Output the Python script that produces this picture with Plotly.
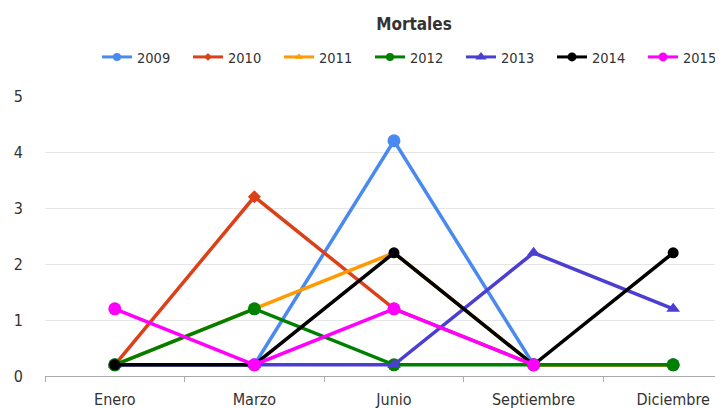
import plotly.graph_objects as go

months = ["Enero", "Marzo", "Junio", "Septiembre", "Diciembre"]
years = ["2009", "2010", "2011", "2012", "2013", "2014", "2015"]
v2009 = [0.2, 0.2, 4.2, 0.2, 0.2]
v2010 = [0.2, 3.2, 1.2, 0.2, 0.2]
v2011 = [0.2, 1.2, 2.2, 0.2, 0.2]
v2012 = [0.2, 1.2, 0.2, 0.2, 0.2]
v2013 = [0.2, 0.2, 0.2, 2.2, 1.2]
v2014 = [0.2, 0.2, 2.2, 0.2, 2.2]
v2015 = [1.2, 0.2, 1.2, 0.2, None]
series = [v2009, v2010, v2011, v2012, v2013, v2014, v2015]
yticks = [0, 1, 2, 3, 4, 5]

colors = ["#4a8af0", "#dc4016", "#ff9a00", "#008000", "#4b3fd2", "#000000", "#ff00ff"]
symbols = ["circle", "diamond", "triangle-up", "circle", "triangle-up", "circle", "circle"]
sizes = [13, 10, 9, 13, 12, 11, 13]
leg_sizes = [8, 6, 7, 8, 10, 9, 9]

FONT = "DejaVu Sans Condensed, DejaVu Sans, sans-serif"

# The page body has an 8px default margin; the figure is sized/positioned to account for it.
W, H = 715, 400
OFF = 8

fig = go.Figure()
for name, vals, c, s, sz in zip(years, series, colors, symbols, sizes):
    fig.add_trace(go.Scatter(
        x=months, y=vals, name=name, mode="lines+markers", legendgroup=name,
        showlegend=False,
        line=dict(color=c, width=3.5),
        marker=dict(color=c, symbol=s, size=sz),
    ))
for name, c, s, lsz in zip(years, colors, symbols, leg_sizes):
    fig.add_trace(go.Scatter(
        x=[None], y=[None], name=name, mode="lines+markers", legendgroup=name,
        line=dict(color=c, width=3), marker=dict(color=c, symbol=s, size=lsz),
    ))

fig.update_layout(
    width=W, height=H,
    margin=dict(l=45 - OFF, r=0, t=96 - OFF, b=H - (376 - OFF), autoexpand=False),
    plot_bgcolor="white", paper_bgcolor="white",
    font=dict(family=FONT, size=14, color="#333333"),
    title=dict(text="<b>Mortales</b>", x=(414 - OFF) / W, xref="container", xanchor="center",
               y=1 - (24 - OFF) / H, yref="container", yanchor="middle",
               font=dict(size=17, color="#333333")),
    legend=dict(orientation="h", x=(103 - OFF - 6) / W, xref="container", xanchor="left",
                y=1 - (57 - OFF) / H, yref="container", yanchor="middle",
                entrywidth=46, entrywidthmode="pixels",
                font=dict(size=14.5, color="#333333"), itemwidth=30),
    showlegend=True,
)
fig.update_xaxes(
    type="category", range=[-0.5, 4.357], tickson="boundaries",
    ticks="outside", ticklen=5, tickcolor="#aaaaaa", showline=True,
    linecolor="#aaaaaa", linewidth=1, showgrid=False, zeroline=False,
    tickfont=dict(size=16, color="#333333"), ticklabelstandoff=9,
)
fig.update_yaxes(
    range=[0, 5], tickvals=yticks, showgrid=True, gridcolor="#e6e6e6",
    gridwidth=1, zeroline=False, showline=False,
    tickfont=dict(size=16, color="#333333"), ticklabelstandoff=21,
)

fig.write_html("out.html")
